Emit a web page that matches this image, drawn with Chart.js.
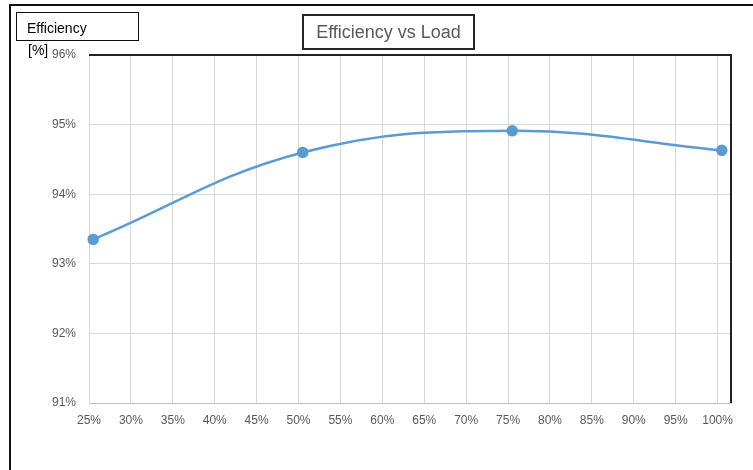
<!DOCTYPE html>
<html>
<head>
<meta charset="utf-8">
<script src="https://cdn.jsdelivr.net/npm/chart.js@4.4.1/dist/chart.umd.min.js"></script>
<style>
  body { margin: 0; background: #fff; }
  #wrap { position: relative; width: 753px; height: 470px; overflow: hidden; font-family: "Liberation Sans", Arial, sans-serif; }
  #chart { position: absolute; left: 0; top: 0; }
  .frame { position: absolute; left: 9px; top: 4px; width: 800px; height: 500px; border-left: 2px solid #111; border-top: 2px solid #111; }
  .ylab { position: absolute; left: 16px; top: 12px; width: 121px; height: 27px; border: 1.5px solid #111; }
  .ylab span { position: absolute; left: 10px; top: 7px; font-size: 14px; color: #000; }
  .unit { position: absolute; left: 28px; top: 42px; font-size: 14px; color: #000; }
  .title { position: absolute; left: 302px; top: 14px; width: 169px; height: 32px; border: 2px solid #262626; text-align: center; line-height: 32px; font-size: 18px; color: #595959; }
</style>
</head>
<body>
<div id="wrap">
  <canvas id="chart" width="753" height="470"></canvas>
  <div class="frame"></div>
  <div class="ylab"><span>Efficiency</span></div>
  <div class="unit">[%]</div>
  <div class="title">Efficiency vs Load</div>
</div>
<script>
// data
const loadPct = [25.5, 50.5, 75.5, 100.5];
const efficiency = [93.35, 94.6, 94.91, 94.63];
const xTicks = [25, 30, 35, 40, 45, 50, 55, 60, 65, 70, 75, 80, 85, 90, 95, 100];

const xMin = 25, xMax = 101.6;
const yMin = 91, yMax = 96, yStep = 1;

const lineColor = '#5b9bd5';
const gridColor = '#d9d9d9';
const tickColor = '#595959';

// black top / right edge of the plot area
const plotEdge = {
  id: 'plotEdge',
  afterDraw(chart) {
    const { ctx, chartArea: a } = chart;
    ctx.save();
    ctx.strokeStyle = '#222';
    ctx.lineWidth = 2;
    ctx.beginPath();
    ctx.moveTo(a.left, a.top);
    ctx.lineTo(a.right, a.top);
    ctx.lineTo(a.right, a.bottom);
    ctx.stroke();
    ctx.restore();
  }
};

new Chart(document.getElementById('chart'), {
  type: 'line',
  data: {
    datasets: [{
      data: loadPct.map((x, i) => ({ x: x, y: efficiency[i] })),
      borderColor: lineColor,
      backgroundColor: lineColor,
      borderWidth: 2.5,
      pointRadius: 4.5,
      pointHoverRadius: 4.5,
      tension: 0.4,
      clip: false
    }]
  },
  options: {
    responsive: false,
    animation: false,
    devicePixelRatio: 1,
    layout: { padding: { top: 55, right: 22, left: 0, bottom: 0 } },
    plugins: { legend: { display: false }, tooltip: { enabled: false } },
    scales: {
      x: {
        type: 'linear',
        min: xMin,
        max: xMax,
        afterBuildTicks: s => { s.ticks = xTicks.map(v => ({ value: v })); },
        afterFit: s => { s.height = 67; },
        grid: { color: gridColor, drawTicks: false },
        border: { color: '#bfbfbf' },
        ticks: {
          padding: 10,
          color: tickColor,
          font: { family: 'Liberation Sans', size: 12 },
          maxRotation: 0,
          autoSkip: false,
          callback: v => v + '%'
        }
      },
      y: {
        min: yMin,
        max: yMax,
        afterFit: s => { s.width = 89; },
        grid: { color: gridColor, drawTicks: false },
        border: { color: gridColor },
        ticks: {
          stepSize: yStep,
          padding: 13,
          color: tickColor,
          font: { family: 'Liberation Sans', size: 12 },
          callback: v => v + '%'
        }
      }
    }
  },
  plugins: [plotEdge]
});
</script>
</body>
</html>
